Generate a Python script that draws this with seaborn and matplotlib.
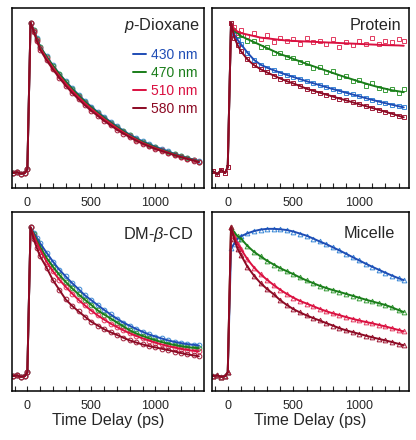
import pandas as pd
import seaborn as sns
import matplotlib.pyplot as plt
import matplotlib.ticker as ticker

# time axis (ps), shared by all panels
time_ps = [-110, -80, -50, -20, 0, 25, 50, 75, 100, 150, 200, 250, 300, 350, 400, 450,
           500, 550, 600, 650, 700, 750, 800, 850, 900, 950, 1000, 1050, 1100, 1150,
           1200, 1250, 1300, 1340]

wavelengths = ['430 nm', '470 nm', '510 nm', '580 nm']
panels = ['dioxane', 'protein', 'dmcd', 'micelle']

# baseline before time zero
pre_flat = [0.0, 0.005, -0.005, 0.0, 0.025]
pre_noisy = [0.01, -0.01, 0.02, 0.0, 0.04]

# p-Dioxane
dioxane_430 = pre_flat + [1.0, 0.95, 0.895, 0.84, 0.775, 0.715, 0.66, 0.61, 0.563, 0.52, 0.478, 0.44, 0.405, 0.372,
                          0.34, 0.31, 0.282, 0.255, 0.232, 0.21, 0.192, 0.175, 0.159, 0.143, 0.127, 0.112, 0.1, 0.088, 0.078]
dioxane_470 = pre_flat + [1.0, 0.948, 0.893, 0.838, 0.772, 0.712, 0.657, 0.606, 0.558, 0.515, 0.473, 0.435, 0.4, 0.366,
                          0.335, 0.305, 0.277, 0.25, 0.227, 0.206, 0.188, 0.17, 0.154, 0.139, 0.124, 0.11, 0.098, 0.086, 0.076]
dioxane_510 = pre_flat + [1.0, 0.945, 0.885, 0.83, 0.762, 0.7, 0.645, 0.594, 0.547, 0.504, 0.463, 0.426, 0.392, 0.358,
                          0.328, 0.298, 0.27, 0.245, 0.222, 0.2, 0.182, 0.165, 0.15, 0.135, 0.12, 0.107, 0.095, 0.083, 0.073]
dioxane_580 = pre_flat + [1.0, 0.94, 0.878, 0.82, 0.75, 0.688, 0.632, 0.58, 0.533, 0.49, 0.45, 0.413, 0.38, 0.347,
                          0.317, 0.288, 0.262, 0.238, 0.215, 0.195, 0.177, 0.16, 0.146, 0.132, 0.118, 0.105, 0.093, 0.082, 0.072]

# Protein
protein_430 = pre_noisy + [1.0, 0.92, 0.885, 0.857, 0.8, 0.752, 0.72, 0.7, 0.683, 0.667, 0.652, 0.638, 0.624, 0.61,
                           0.597, 0.584, 0.571, 0.558, 0.546, 0.534, 0.522, 0.51, 0.498, 0.486, 0.475, 0.464, 0.454, 0.444, 0.436]
protein_470 = pre_noisy + [1.0, 0.945, 0.93, 0.91, 0.89, 0.87, 0.85, 0.83, 0.81, 0.79, 0.775, 0.758, 0.742, 0.725,
                           0.71, 0.695, 0.68, 0.665, 0.65, 0.636, 0.622, 0.608, 0.595, 0.582, 0.57, 0.56, 0.55, 0.543, 0.537]
protein_470_pts = pre_noisy + [1.0, 0.95, 0.92, 0.915, 0.88, 0.875, 0.84, 0.835, 0.8, 0.795, 0.77, 0.765, 0.735, 0.73,
                               0.7, 0.705, 0.67, 0.675, 0.64, 0.645, 0.61, 0.62, 0.58, 0.6, 0.565, 0.55, 0.555, 0.535, 0.56]
protein_510 = pre_noisy + [1.0, 0.955, 0.94, 0.93, 0.92, 0.91, 0.9, 0.895, 0.89, 0.885, 0.88, 0.878, 0.876, 0.874,
                           0.872, 0.87, 0.868, 0.866, 0.864, 0.862, 0.86, 0.858, 0.856, 0.854, 0.852, 0.85, 0.849, 0.848, 0.846]
protein_510_pts = pre_noisy + [1.0, 0.97, 0.93, 0.95, 0.91, 0.93, 0.89, 0.92, 0.87, 0.9, 0.88, 0.89, 0.86, 0.9,
                               0.87, 0.88, 0.855, 0.89, 0.84, 0.87, 0.85, 0.88, 0.86, 0.9, 0.86, 0.88, 0.87, 0.89, 0.875]
protein_580 = pre_noisy + [1.0, 0.9, 0.85, 0.81, 0.755, 0.717, 0.69, 0.668, 0.648, 0.628, 0.61, 0.595, 0.578, 0.56,
                           0.547, 0.534, 0.521, 0.508, 0.495, 0.483, 0.47, 0.457, 0.445, 0.432, 0.42, 0.407, 0.394, 0.38, 0.37]

# DM-beta-CD
dmcd_430 = pre_flat + [1.0, 0.965, 0.93, 0.893, 0.83, 0.77, 0.715, 0.67, 0.625, 0.585, 0.543, 0.51, 0.477, 0.445,
                       0.415, 0.386, 0.36, 0.338, 0.317, 0.298, 0.28, 0.266, 0.253, 0.24, 0.23, 0.222, 0.215, 0.21, 0.206]
dmcd_470 = pre_flat + [1.0, 0.955, 0.91, 0.87, 0.795, 0.735, 0.68, 0.633, 0.59, 0.55, 0.513, 0.478, 0.442, 0.414,
                       0.388, 0.36, 0.334, 0.308, 0.287, 0.27, 0.255, 0.241, 0.229, 0.218, 0.209, 0.201, 0.195, 0.19, 0.188]
dmcd_510 = pre_flat + [1.0, 0.945, 0.895, 0.85, 0.77, 0.705, 0.648, 0.6, 0.555, 0.513, 0.475, 0.44, 0.408, 0.38,
                       0.353, 0.33, 0.308, 0.288, 0.27, 0.254, 0.239, 0.225, 0.213, 0.202, 0.192, 0.183, 0.176, 0.17, 0.166]
dmcd_580 = pre_flat + [1.0, 0.92, 0.86, 0.805, 0.73, 0.645, 0.58, 0.515, 0.472, 0.435, 0.4, 0.365, 0.34, 0.315,
                       0.295, 0.277, 0.258, 0.24, 0.226, 0.213, 0.202, 0.193, 0.184, 0.175, 0.165, 0.155, 0.146, 0.139, 0.133]

# Micelle
micelle_430 = pre_flat + [0.86, 0.89, 0.925, 0.94, 0.96, 0.975, 0.985, 0.99, 0.99, 0.987, 0.982, 0.972, 0.958, 0.944,
                          0.925, 0.905, 0.887, 0.866, 0.845, 0.823, 0.8, 0.778, 0.756, 0.735, 0.715, 0.695, 0.676, 0.658, 0.645]
micelle_470 = pre_flat + [1.0, 0.965, 0.94, 0.925, 0.875, 0.835, 0.805, 0.775, 0.75, 0.725, 0.705, 0.685, 0.663, 0.643,
                          0.625, 0.607, 0.592, 0.578, 0.566, 0.553, 0.54, 0.527, 0.514, 0.502, 0.49, 0.478, 0.462, 0.444, 0.43]
micelle_510 = pre_flat + [1.0, 0.94, 0.89, 0.855, 0.785, 0.73, 0.685, 0.647, 0.612, 0.58, 0.552, 0.527, 0.505, 0.488,
                          0.47, 0.452, 0.436, 0.422, 0.41, 0.397, 0.385, 0.374, 0.364, 0.355, 0.344, 0.334, 0.322, 0.31, 0.3]
micelle_580 = pre_flat + [1.0, 0.92, 0.855, 0.815, 0.735, 0.675, 0.625, 0.585, 0.55, 0.51, 0.478, 0.45, 0.428, 0.408,
                          0.39, 0.374, 0.356, 0.34, 0.322, 0.308, 0.296, 0.284, 0.272, 0.261, 0.25, 0.24, 0.229, 0.217, 0.207]

panel_titles = ['$\\mathit{p}$-Dioxane', 'Protein', 'DM-$\\mathit{β}$-CD', 'Micelle']
line_colors = ['#1f4db5', '#1a7d1a', '#da1040', '#8c0a24']
point_colors = ['#3a88d6', '#3a9c3a', '#e23a60', '#a01c38']

# long table: fit curve and measured points
fits = {
    'dioxane': [dioxane_430, dioxane_470, dioxane_510, dioxane_580],
    'protein': [protein_430, protein_470, protein_510, protein_580],
    'dmcd': [dmcd_430, dmcd_470, dmcd_510, dmcd_580],
    'micelle': [micelle_430, micelle_470, micelle_510, micelle_580],
}
points = {k: list(v) for k, v in fits.items()}
points['protein'][1] = protein_470_pts
points['protein'][2] = protein_510_pts

rows = []
for p in panels:
    for i, wl in enumerate(wavelengths):
        for t, f, d in zip(time_ps, fits[p][i], points[p][i]):
            rows.append({'panel': p, 'wl': wl, 'time': t, 'fit': f, 'data': d})
df = pd.DataFrame(rows)

sns.set_style('white')
plt.rcParams['font.family'] = ['Liberation Sans', 'DejaVu Sans']
plt.rcParams['mathtext.fontset'] = 'custom'
plt.rcParams['mathtext.rm'] = 'Liberation Sans'
plt.rcParams['mathtext.it'] = 'Liberation Sans:italic'

fig = plt.figure(figsize=(4.16, 4.40), dpi=100)
boxes = [[0.0288, 0.5727, 0.4615, 0.4102], [0.5096, 0.5727, 0.4736, 0.4102],
         [0.0288, 0.1114, 0.4615, 0.4057], [0.5096, 0.1114, 0.4736, 0.4057]]
markers = ['o', 's', 'o', '^']
title_pos = [(0.979, 0.903), (0.959, 0.903), (0.943, 0.874), (0.929, 0.88)]

line_pal = dict(zip(wavelengths, line_colors))

for k, p in enumerate(panels):
    ax = fig.add_axes(boxes[k])
    sub = df[df['panel'] == p]
    # open markers for the measured points
    for i, wl in enumerate(wavelengths):
        sns.lineplot(data=sub[sub['wl'] == wl], x='time', y='data', color=point_colors[i],
                     estimator=None, marker=markers[k], linestyle='none', mfc='none',
                     mec=point_colors[i], mew=0.7, ms=3.4, legend=False, ax=ax)
    # fitted curves
    sns.lineplot(data=sub, x='time', y='fit', hue='wl', palette=line_pal, estimator=None,
                 lw=1.4, legend=(k == 0), ax=ax)

    ax.set_xlim(-120, 1380)
    ax.set_ylim(-0.1, 1.1)
    ax.set_yticks([])
    ax.set_ylabel('')
    ax.xaxis.set_major_locator(ticker.MultipleLocator(500))
    ax.xaxis.set_minor_locator(ticker.MultipleLocator(100))
    ax.tick_params(axis='x', which='both', direction='in', length=3.5, width=0.8,
                   labelsize=9, pad=6.5, bottom=True)
    for s in ax.spines.values():
        s.set_linewidth(1.1)
        s.set_color('black')
    if k >= 2:
        ax.set_xlabel('Time Delay (ps)', fontsize=11.5, labelpad=1)
    else:
        ax.set_xlabel('')

    ax.text(title_pos[k][0], title_pos[k][1], panel_titles[k], transform=ax.transAxes,
            ha='right', va='center', fontsize=11.7)

    if k == 0:
        leg = ax.get_legend()
        handles = leg.legend_handles
        labels = [t.get_text() for t in leg.get_texts()]
        ax.legend(handles, labels, loc='upper right', bbox_to_anchor=(0.965, 0.778),
                  frameon=False, fontsize=10, handlelength=0.95, handletextpad=0.35,
                  labelspacing=0.3, borderpad=0, borderaxespad=0, labelcolor='linecolor')

plt.savefig('out.png', dpi=100)
